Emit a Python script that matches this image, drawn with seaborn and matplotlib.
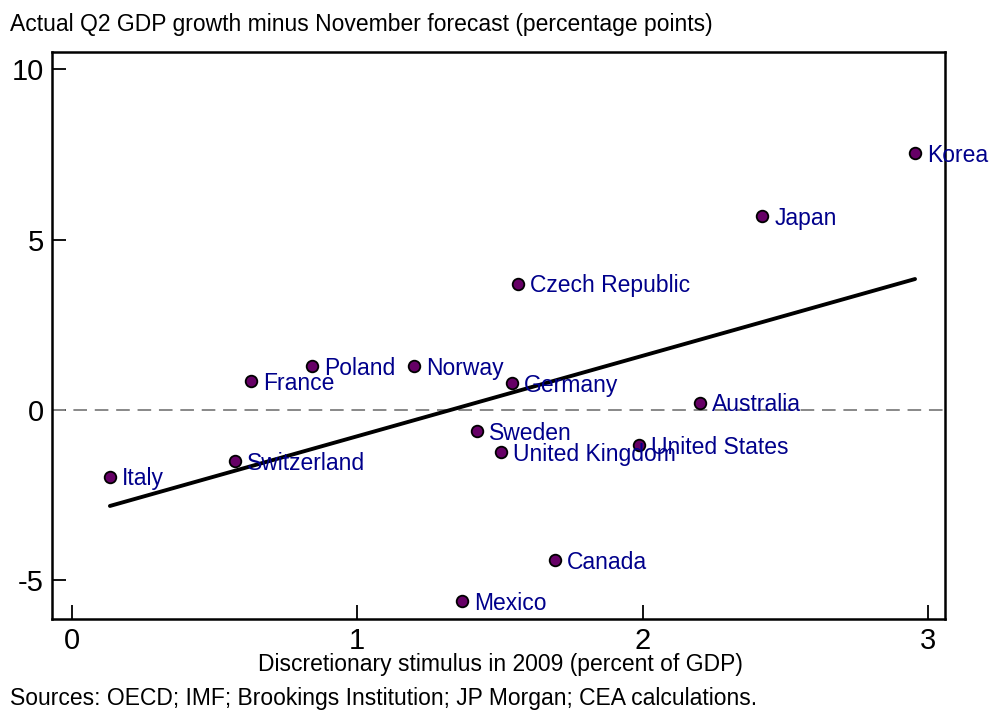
import matplotlib
matplotlib.use("Agg")
import matplotlib.pyplot as plt
import seaborn as sns
import pandas as pd
import numpy as np

countries = ["Korea", "Japan", "Czech Republic", "Poland", "Norway", "France", "Germany",
             "Australia", "Sweden", "United Kingdom", "United States", "Switzerland",
             "Italy", "Canada", "Mexico"]
stimulus = [2.955, 2.42, 1.563, 0.841, 1.199, 0.627, 1.542, 2.201, 1.42, 1.504, 1.987,
            0.571, 0.133, 1.693, 1.367]
gdp_gap = [7.54, 5.69, 3.70, 1.29, 1.29, 0.85, 0.79, 0.21, -0.62, -1.23, -1.03, -1.50,
           -1.96, -4.40, -5.60]

df = pd.DataFrame({"country": countries, "x": stimulus, "y": gdp_gap})

sns.set_style("white")
plt.rcParams['font.family'] = ['Liberation Sans', 'DejaVu Sans']
plt.rcParams['text.color'] = 'black'
plt.rcParams['xtick.color'] = 'black'
plt.rcParams['ytick.color'] = 'black'

fig = plt.figure(figsize=(9.92, 7.15), dpi=100)
ax = fig.add_axes([52/992, 1-619/715, (945-52)/992, (619-52)/715])

ax.axhline(0, color="#888888", lw=1.4, ls=(0, (7, 4)), zorder=1)
sns.regplot(data=df, x="x", y="y", ci=None, scatter=False, ax=ax,
            line_kws=dict(color="black", lw=2.8, zorder=2), truncate=True)
sns.scatterplot(data=df, x="x", y="y", ax=ax, color="#660066", edgecolor="black",
                linewidth=1.3, s=70, zorder=3)
for c, xv, yv in zip(countries, stimulus, gdp_gap):
    ax.annotate(c, (xv, yv), xytext=(8.5, -1.5), textcoords="offset points",
                ha="left", va="center", color="#00008B", fontsize=16.5, zorder=4)

ax.set_xlim(-0.07, 3.06)
ax.set_ylim(-6.13, 10.5)
ax.set_xticks([0, 1, 2, 3])
ax.set_yticks([-5, 0, 5, 10])
ax.set_xticklabels(["0", "1", "2", "3"])
ax.set_yticklabels(["-5", "0", "5", "10"])
ax.tick_params(direction="in", length=10, width=1.3, labelsize=21, pad=6,
               bottom=True, left=True, top=False, right=False)
for s in ax.spines.values():
    s.set_color("black")
    s.set_linewidth(1.8)
ax.set_xlabel("")
ax.set_ylabel("")

fig.text(10/992, 1-25/715, "Actual Q2 GDP growth minus November forecast (percentage points)",
         fontsize=16.5, ha="left", va="center")
fig.text(500/992, 1-665/715, "Discretionary stimulus in 2009 (percent of GDP)",
         fontsize=16.5, ha="center", va="center")
fig.text(10/992, 1-698/715, "Sources: OECD; IMF; Brookings Institution; JP Morgan; CEA calculations.",
         fontsize=16.5, ha="left", va="center")

fig.savefig("out.png", dpi=100)
